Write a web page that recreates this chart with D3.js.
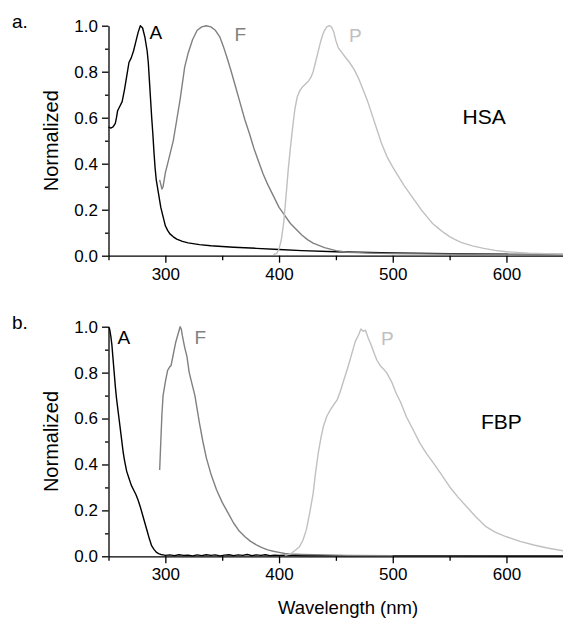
<!DOCTYPE html>
<html>
<head>
<meta charset="utf-8">
<script src="https://cdn.jsdelivr.net/npm/d3@7"></script>
<style>
  body { margin: 0; background: #fff; }
  svg { display: block; font-family: "Liberation Sans", Arial, sans-serif; }
  .tick text { font-size: 17px; fill: #000; }
  .domain, .tick line { stroke: #000; stroke-width: 1.3; }
</style>
</head>
<body>
<div id="chart"></div>
<script>
// HSA panel (a): absorption, fluorescence, phosphorescence, [nm, normalized]
const hsaAbs = [[250,0.56],[252,0.555],[254,0.56],[256,0.575],[257,0.6],[258,0.63],[260,0.65],[262,0.67],[264,0.72],
  [266,0.78],[268,0.84],[270,0.86],[272,0.89],[274,0.93],[276,0.97],[278,1.0],[280,0.99],[282,0.95],[284,0.89],
  [285,0.84],[286,0.76],[287,0.68],[288,0.6],[289,0.53],[290,0.45],[291,0.38],[292,0.33],[294,0.27],[296,0.21],
  [298,0.17],[300,0.13],[302,0.11],[304,0.095],[307,0.082],[310,0.072],[315,0.062],[320,0.056],[330,0.048],
  [340,0.043],[350,0.04],[360,0.037],[380,0.032],[400,0.027],[420,0.022],[450,0.017],[500,0.012],[550,0.009],
  [600,0.006],[650,0.005]]
const hsaFluo = [[295,0.33],[296,0.31],[297,0.29],[298,0.30],[300,0.36],[303,0.42],[307,0.50],[310,0.59],[313,0.68],
  [317,0.82],[320,0.88],[324,0.94],[328,0.98],[332,0.995],[336,1.0],[340,0.995],[344,0.98],[348,0.95],[351,0.91],
  [354,0.865],[358,0.80],[362,0.73],[366,0.66],[370,0.59],[374,0.53],[378,0.465],[382,0.41],[386,0.355],[390,0.31],
  [395,0.26],[400,0.21],[405,0.175],[410,0.14],[415,0.115],[420,0.09],[425,0.07],[430,0.055],[440,0.035],
  [450,0.022],[460,0.015],[480,0.011],[500,0.009],[550,0.007],[600,0.005],[650,0.004]]
const hsaPhos = [[395,0.005],[398,0.01],[400,0.03],[402,0.07],[404,0.14],[406,0.25],[408,0.37],[410,0.47],[412,0.56],
  [414,0.64],[416,0.69],[418,0.715],[420,0.73],[423,0.745],[426,0.76],[428,0.775],[430,0.8],[432,0.84],[434,0.88],
  [436,0.92],[438,0.955],[440,0.98],[442,0.995],[444,1.0],[446,0.995],[448,0.975],[450,0.935],[452,0.905],
  [455,0.885],[458,0.865],[462,0.84],[466,0.81],[470,0.77],[474,0.72],[478,0.67],[482,0.61],[486,0.55],[490,0.49],
  [495,0.43],[500,0.385],[505,0.345],[510,0.305],[515,0.27],[520,0.235],[525,0.2],[530,0.17],[535,0.14],[540,0.12],
  [545,0.1],[550,0.083],[555,0.07],[560,0.058],[570,0.043],[580,0.032],[590,0.023],[600,0.017],[620,0.011],[650,0.007]]

// FBP panel (b)
const fbpAbs = [[250,1.0],[251,0.99],[252,0.96],[253,0.92],[254,0.86],[255,0.8],[256,0.74],[257,0.69],[258,0.65],
  [259,0.61],[260,0.57],[261,0.53],[262,0.49],[263,0.45],[264,0.42],[265,0.395],[266,0.37],[268,0.34],[270,0.31],
  [272,0.29],[274,0.27],[276,0.245],[278,0.215],[280,0.18],[282,0.145],[284,0.11],[286,0.075],[288,0.045],[290,0.03],
  [292,0.018],[294,0.012],[296,0.008],[298,0.006],[300,0.004],[304,0.006],[308,0.003],[312,0.007],[316,0.004],
  [320,0.005],[324,0.002],[328,0.006],[332,0.003],[336,0.007],[340,0.004],[344,0.006],[348,0.002],[352,0.005],
  [356,0.007],[360,0.003],[364,0.006],[368,0.004],[372,0.008],[376,0.003],[380,0.006],[384,0.004],[388,0.007],
  [392,0.003],[396,0.005],[400,0.004],[410,0.005],[420,0.003],[430,0.004],[440,0.003],[450,0.003],[500,0.002],
  [550,0.002],[600,0.001],[650,0.001]]
const fbpFluo = [[295,0.376],[296,0.5],[297,0.62],[298,0.7],[300,0.76],[302,0.81],[304,0.826],[305,0.83],[307,0.88],
  [309,0.93],[311,0.965],[313,1.0],[314,0.99],[315,0.96],[317,0.91],[319,0.87],[321,0.8],[323,0.76],[326,0.7],
  [328,0.64],[330,0.58],[333,0.5],[336,0.43],[340,0.36],[345,0.29],[350,0.235],[355,0.19],[360,0.145],[365,0.11],
  [370,0.085],[375,0.065],[380,0.05],[385,0.038],[390,0.028],[395,0.022],[400,0.017],[405,0.012],[410,0.01],
  [420,0.008],[440,0.006],[460,0.004],[500,0.003]]
const fbpPhos = [[405,0.004],[410,0.01],[414,0.025],[418,0.042],[421,0.07],[424,0.115],[427,0.19],[430,0.274],
  [432,0.36],[434.5,0.45],[437,0.52],[439,0.565],[442,0.61],[445,0.637],[448,0.66],[451,0.68],[454,0.72],[457,0.768],
  [460,0.815],[462.4,0.855],[465,0.9],[467,0.935],[470,0.965],[472,0.99],[474,0.98],[476,0.985],[478.5,0.95],
  [481,0.92],[484,0.88],[486,0.855],[489,0.83],[492,0.815],[495,0.797],[499,0.76],[503,0.71],[507,0.67],[512,0.608],
  [518,0.55],[524,0.492],[530,0.445],[536,0.405],[543,0.355],[550,0.303],[557,0.26],[565,0.216],[573,0.172],
  [582,0.129],[590,0.105],[600,0.085],[612,0.065],[624,0.049],[636,0.036],[650,0.024]]

const xMajor = [300, 400, 500, 600]
const xMinor = [250, 350, 450, 550]
const yMajor = [0, 0.2, 0.4, 0.6, 0.8, 1.0]
const yMinor = [0.1, 0.3, 0.5, 0.7, 0.9]

const panels = [
  { tag: 'a.', name: 'HSA', series: [hsaAbs, hsaFluo, hsaPhos], top: 25.7, bottom: 255.7,
    labels: [[149.5, 38.5], [234.5, 40.5], [349, 41.5]], namePos: [462.5, 124] },
  { tag: 'b.', name: 'FBP', series: [fbpAbs, fbpFluo, fbpPhos], top: 326.7, bottom: 556.3,
    labels: [[117.5, 343.5], [194.5, 343.5], [381, 345]], namePos: [481, 428.5] }
]
const seriesNames = ['A', 'F', 'P']
const colors = ['#000000', '#808080', '#c0c0c0']

const width = 563, height = 619
const svg = d3.select('#chart').append('svg')
  .attr('width', width)
  .attr('height', height)

const x = d3.scaleLinear().domain([250, 650]).range([108.5, 563.3])

panels.forEach(p => {
  const y = d3.scaleLinear().domain([0, 1]).range([p.bottom, p.top])
  const g = svg.append('g')

  // minor ticks first, then major axes on top
  g.append('g')
    .attr('transform', `translate(0,${p.bottom})`)
    .call(d3.axisBottom(x).tickValues(xMinor).tickSize(4.5).tickFormat('').tickSizeOuter(0))
    .select('.domain').remove()
  g.append('g')
    .attr('transform', `translate(${x(250)},0)`)
    .call(d3.axisLeft(y).tickValues(yMinor).tickSize(3.5).tickFormat('').tickSizeOuter(0))
    .select('.domain').remove()

  g.append('g')
    .attr('transform', `translate(0,${p.bottom})`)
    .call(d3.axisBottom(x).tickValues(xMajor).tickSize(7).tickPadding(5).tickSizeOuter(0))
  g.append('g')
    .attr('transform', `translate(${x(250)},0)`)
    .call(d3.axisLeft(y).tickValues(yMajor).tickSize(6.5).tickPadding(4)
      .tickFormat(d3.format('.1f')).tickSizeOuter(0))

  const line = d3.line().x(d => x(d[0])).y(d => y(d[1]))
  p.series.forEach((s, i) => {
    g.append('path')
      .datum(s)
      .attr('fill', 'none')
      .attr('stroke', colors[i])
      .attr('stroke-width', 1.4)
      .attr('stroke-linejoin', 'round')
      .attr('d', line)
  })

  g.selectAll('.series_label')
    .data(seriesNames)
    .enter()
    .append('text')
    .attr('x', (d, i) => p.labels[i][0])
    .attr('y', (d, i) => p.labels[i][1])
    .attr('fill', (d, i) => colors[i])
    .attr('font-size', 19)
    .text(d => d)

  g.append('text')
    .attr('x', p.namePos[0])
    .attr('y', p.namePos[1])
    .attr('font-size', 21)
    .text(p.name)

  g.append('text')
    .attr('x', 12)
    .attr('y', p.top + 2.5)
    .attr('font-size', 19)
    .text(p.tag)

  g.append('text')
    .attr('transform', `translate(57.5,${(p.top + p.bottom) / 2}) rotate(-90)`)
    .attr('text-anchor', 'middle')
    .attr('font-size', 20)
    .text('Normalized')
})

svg.append('text')
  .attr('x', 348)
  .attr('y', 614)
  .attr('text-anchor', 'middle')
  .attr('font-size', 18.5)
  .text('Wavelength (nm)')
</script>
</body>
</html>
